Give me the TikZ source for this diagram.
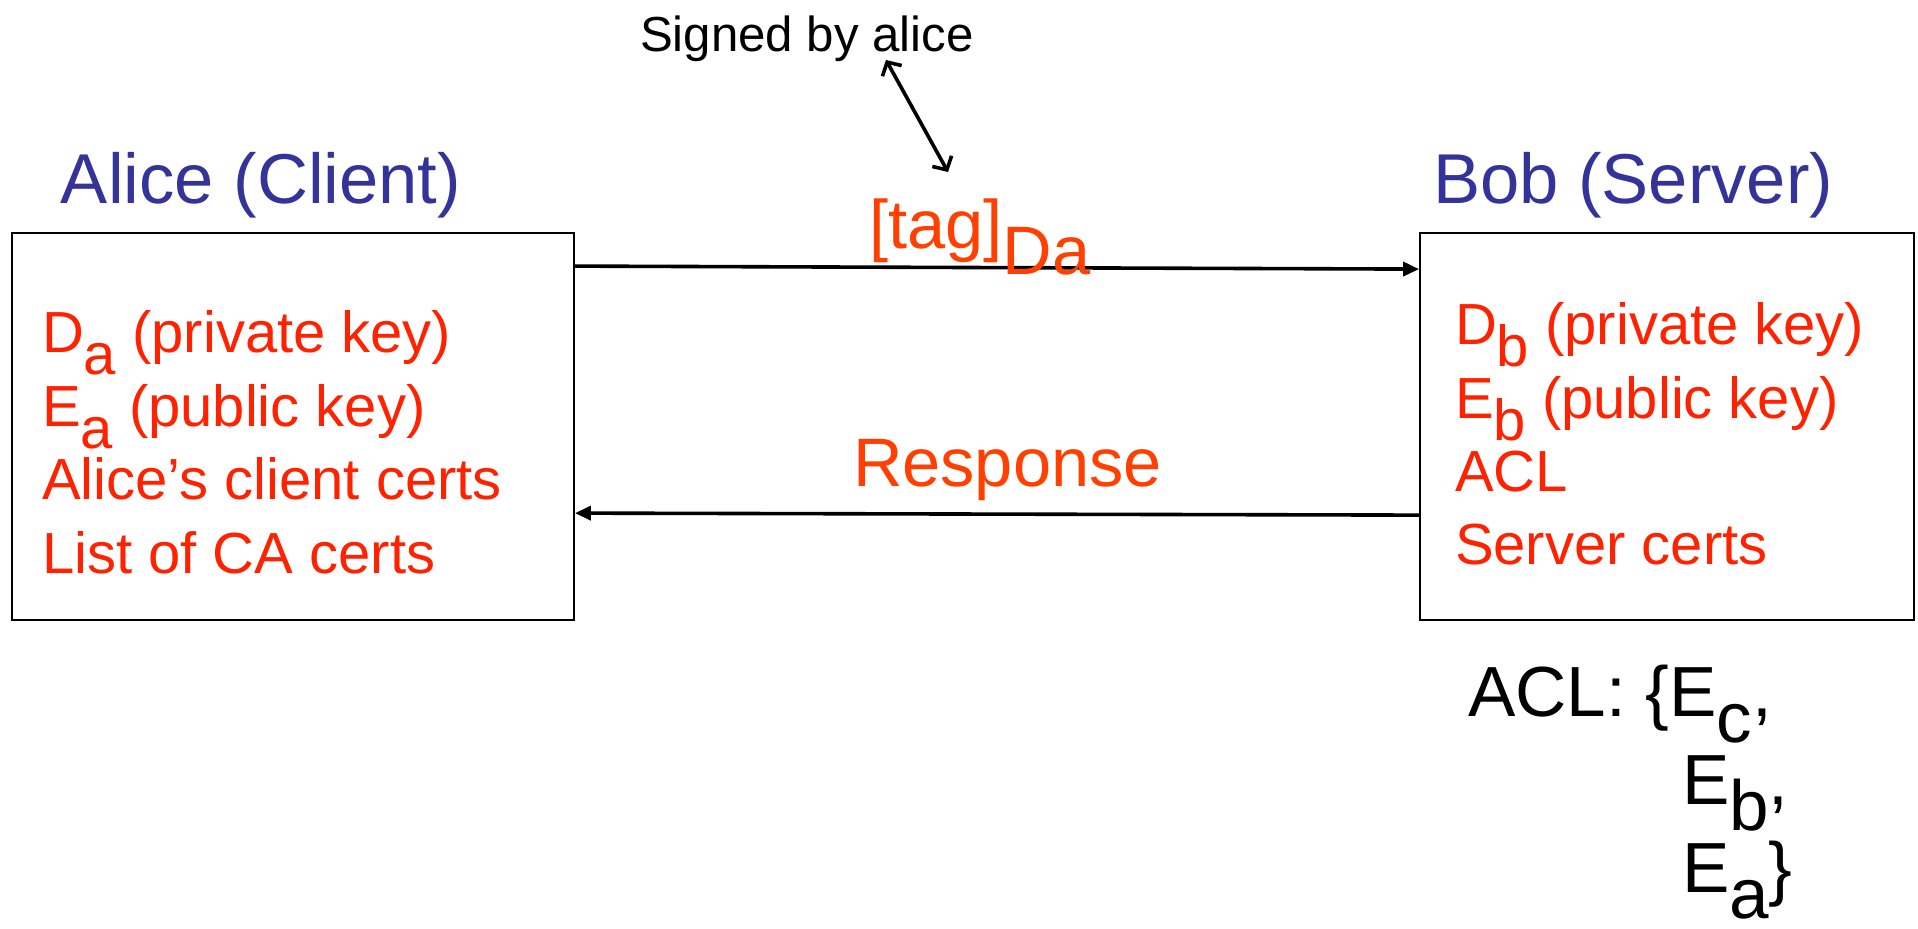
\documentclass[tikz,border=0pt]{standalone}
\usepackage{fontspec}
\setmainfont{Liberation Sans}
\usetikzlibrary{arrows.meta}
\definecolor{titleblue}{RGB}{51,51,153}
\definecolor{keyred}{RGB}{255,34,0}
\definecolor{msgorange}{RGB}{255,64,0}
\newcommand{\lowsub}[1]{\raisebox{-0.38em}{#1}}
\begin{document}
\begin{tikzpicture}[x=0.5pt,y=-0.5pt,
  txt/.style={anchor=base west, inner sep=0pt, outer sep=0pt},
  titletext/.style={txt, text=titleblue, font=\fontsize{35.3}{42}\selectfont},
  keytext/.style={txt, text=keyred, font=\fontsize{29}{34}\selectfont},
  msgtext/.style={txt, text=msgorange, font=\fontsize{34.3}{40}\selectfont},
  acltext/.style={txt, text=black, font=\fontsize{35.5}{42}\selectfont},
  party/.style={draw=black, line width=0.9pt, inner sep=0pt, minimum height=193.5pt},
  flow/.style={line width=1.8pt, -{Triangle[length=8pt,width=7pt]}},
  note/.style={line width=1.8pt, {Straight Barb[length=5pt,width=11pt]}-{Straight Barb[length=5pt,width=11pt]}},
]
\useasboundingbox (0,0) rectangle (1918,928);

% boxes
\node[party, minimum width=281pt] (alice) at (293,426.5) {};
\node[party, minimum width=247pt] (bob) at (1667,426.5) {};

% titles
\node[titletext] (alicet) at (61,203) {Alice (Client)};
\node[titletext] (bobt) at (1433,203) {Bob (Server)};

% Alice contents
\node[keytext] (da) at (42,352) {D\lowsub{a} (private key)};
\node[keytext] (ea) at (42,426) {E\lowsub{a} (public key)};
\node[keytext] (acc) at (42,499) {Alice’s client certs};
\node[keytext] (cal) at (42,573) {List of CA certs};

% Bob contents
\node[keytext] (db) at (1455,344) {D\lowsub{b} (private key)};
\node[keytext] (eb) at (1455,418) {E\lowsub{b} (public key)};
\node[keytext] (aclb) at (1455,491) {ACL};
\node[keytext] (sc) at (1455,564) {Server certs};

% messages
\path (alice.north east) ++(0,34) coordinate (req0);
\path (bob.north west) ++(0,37) coordinate (req1);
\draw[flow] (req0) -- (req1);
\path (bob.north west) ++(0,283) coordinate (res0);
\path (alice.north east) ++(0,281) coordinate (res1);
\draw[flow] (res0) -- (res1);

\node[msgtext] (tag) at (869,248) {[tag]\raisebox{-13pt}{Da}};
\node[msgtext] (resp) at (853,486) {Response};

% signed note
\node[txt, font=\fontsize{24.6}{29}\selectfont] (signed) at (640,51) {Signed by alice};
\coordinate (s1) at (886,60);
\coordinate (s2) at (948,172);
\draw[note] (s1) -- (s2);

% ACL list
\node[acltext] (acl1) at (1468,716) {ACL: \{E\raisebox{-13pt}{c},};
\node[acltext] (acl2) at (1682,804) {E\raisebox{-13pt}{b},};
\node[acltext] (acl3) at (1682,892) {E\raisebox{-13pt}{a}\}};
\end{tikzpicture}
\end{document}
